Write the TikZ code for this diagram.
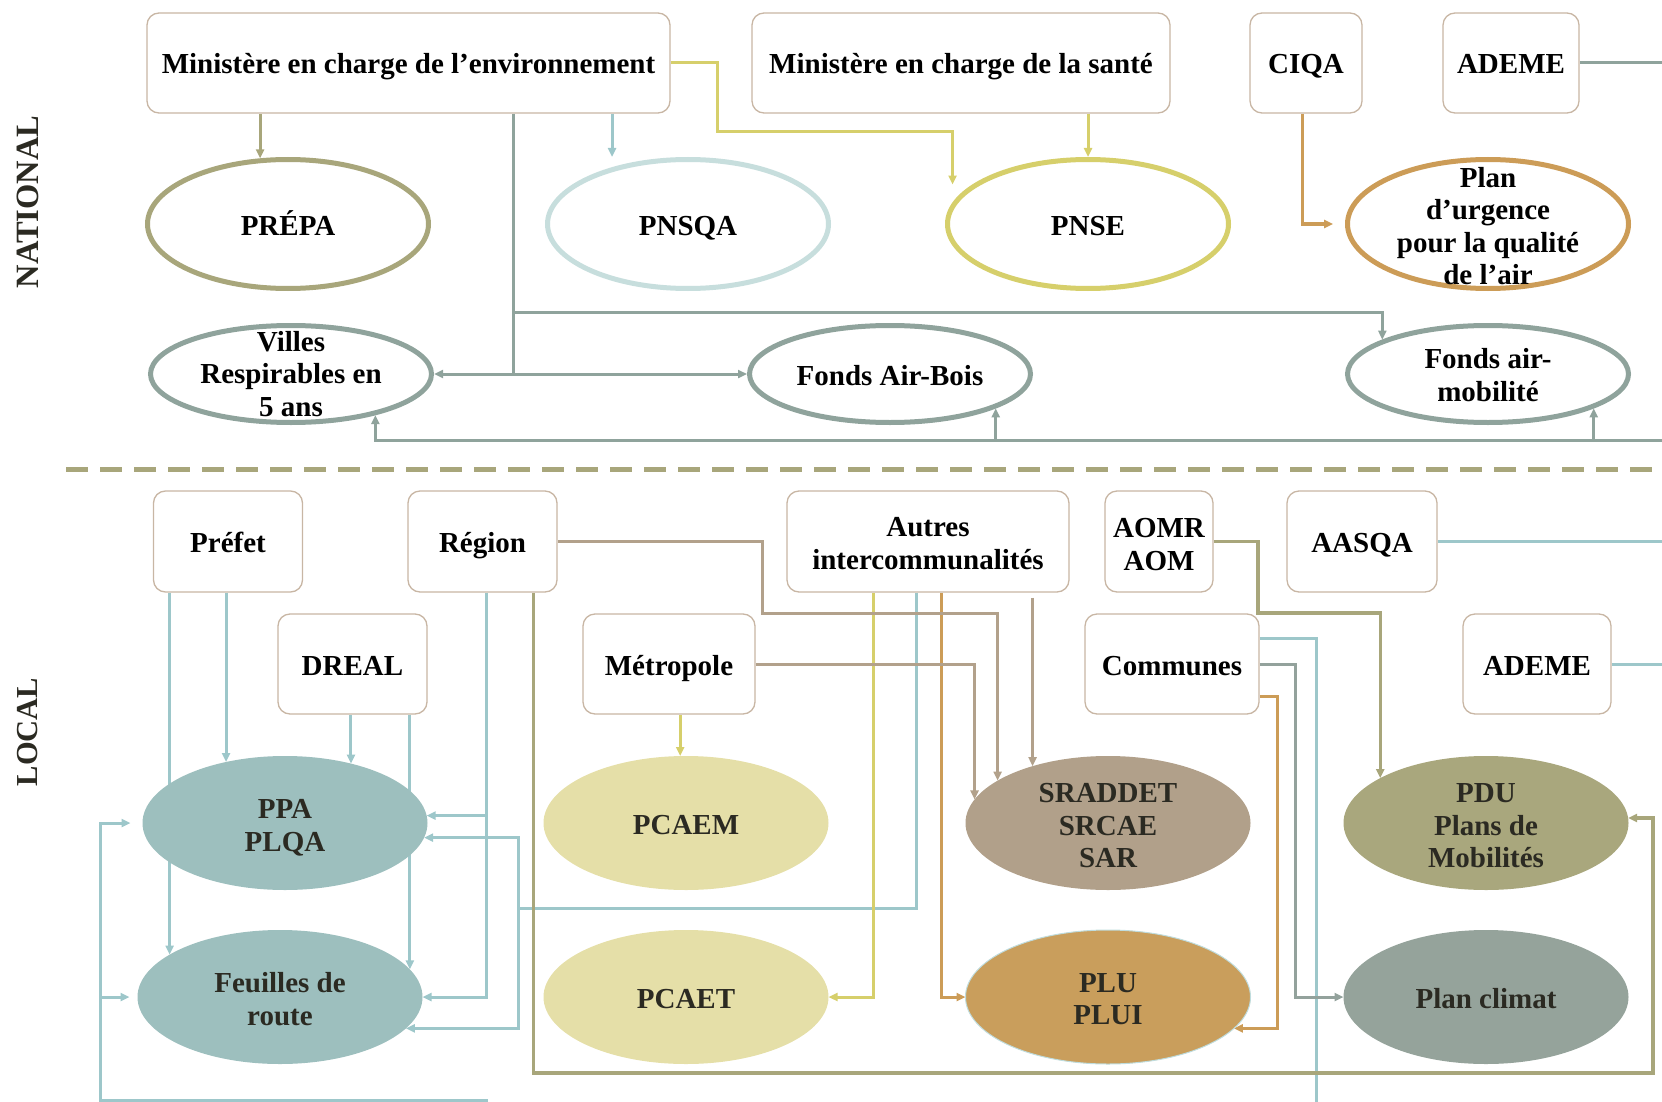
\documentclass[tikz,border=0pt]{standalone}
\usepackage{fontspec}
\setmainfont{Liberation Serif}
\usetikzlibrary{shapes.geometric,arrows.meta}

\definecolor{boxline}{HTML}{C8B6A4}
\definecolor{olivec}{HTML}{A8A67B}
\definecolor{paleteal}{HTML}{C7DEDD}
\definecolor{yelc}{HTML}{D6CF6B}
\definecolor{orngc}{HTML}{CC9C57}
\definecolor{sage}{HTML}{8FA39C}
\definecolor{locblue}{HTML}{9DC7CA}
\definecolor{ppafill}{HTML}{9DBFBE}
\definecolor{pcafill}{HTML}{E5DFA8}
\definecolor{sradfill}{HTML}{B1A08A}
\definecolor{plufill}{HTML}{C99E5C}
\definecolor{pluedge}{HTML}{BFDCDD}
\definecolor{pdufill}{HTML}{A9A77D}
\definecolor{climfill}{HTML}{95A39B}
\definecolor{brownc}{HTML}{B2A18B}
\definecolor{greyc}{HTML}{93A29C}
\definecolor{inkdark}{HTML}{2B2A22}

\newcommand{\boxfont}{\bfseries\fontsize{29}{32.5}\selectfont}

\pgfdeclarelayer{background}
\pgfsetlayers{background,main}

\tikzset{
  box/.style={draw=boxline, line width=1.3pt, rounded corners=12pt, fill=white,
    inner sep=0pt, align=center, text=black, font=\boxfont},
  oneline/.style={text height=22pt, text depth=0pt},
  natplan/.style={ellipse, line width=5pt, fill=white, minimum width=281pt,
    minimum height=129pt, inner sep=0pt},
  locplan/.style={ellipse, draw=none, minimum width=285pt, minimum height=134pt,
    inner sep=0pt, outer sep=0pt},
  plantxt/.style={align=center, font=\boxfont, text=black, inner sep=0pt},
  loctxt/.style={align=center, font=\boxfont, text=inkdark, inner sep=0pt},
  sidelbl/.style={rotate=90, font=\bfseries\fontsize{30.5}{30}\selectfont, text=inkdark},
  natline/.style={draw=sage, line width=3pt},
  locline/.style={draw=locblue, line width=3pt},
  yelline/.style={draw=yelc, line width=3pt},
  orline/.style={draw=orngc, line width=3pt},
  greyline/.style={draw=greyc, line width=3pt},
  brline/.style={draw=brownc, line width=3pt},
  olline/.style={draw=olivec, line width=3.5pt},
  divider/.style={draw=olivec, line width=5pt, dash pattern=on 22pt off 12pt}
}

\begin{document}
\begin{tikzpicture}[x=1pt, y=-1pt, >={Triangle[length=9pt,width=8pt]}]
\useasboundingbox (0,0) rectangle (1662,1102);

% side titles
\node[sidelbl, font=\bfseries\fontsize{32.5}{30}\selectfont] (natLbl) at (28,202) {NATIONAL};
\node[sidelbl] (locLbl) at (28,732) {LOCAL};

% national level
\node[box, oneline, minimum width=523pt, minimum height=100pt] (envbox) at (408.5,63) {Ministère en charge de l’environnement};
\node[box, oneline, minimum width=418pt, minimum height=100pt] (santebox) at (961,63) {Ministère en charge de la santé};
\node[box, oneline, minimum width=112pt, minimum height=100pt] (ciqa) at (1306,63) {CIQA};
\node[box, oneline, minimum width=136pt, minimum height=100pt] (ademeN) at (1511,63) {ADEME};

\node[natplan, draw=olivec, label={[plantxt, oneline]center:PRÉPA}] (prepa) at (288,224) {};
\node[natplan, draw=paleteal, label={[plantxt, oneline]center:PNSQA}] (pnsqa) at (688,224) {};
\node[natplan, draw=yelc, label={[plantxt, oneline]center:PNSE}] (pnse) at (1088,224) {};
\node[natplan, draw=orngc, label={[plantxt, yshift=-2pt]center:Plan\\d’urgence\\pour la qualité\\de l’air}] (urgence) at (1488,224) {};

\node[natplan, minimum height=97pt, draw=sage, label={[plantxt]center:Villes\\Respirables en\\5 ans}] (villes) at (291,374) {};
\node[natplan, minimum height=97pt, draw=sage, label={[plantxt, oneline]center:Fonds Air-Bois}] (airbois) at (890,374) {};
\node[natplan, minimum height=97pt, draw=sage, label={[plantxt, yshift=-1pt]center:Fonds air-\\mobilité}] (mobilite) at (1488,374) {};

% local level
\node[box, oneline, minimum width=149pt, minimum height=101pt] (prefet) at (228,541.5) {Préfet};
\node[box, oneline, minimum width=149pt, minimum height=101pt] (region) at (482.5,541.5) {Région};
\node[box, minimum width=282pt, minimum height=101pt, label={[plantxt, yshift=-2pt]center:Autres\\intercommunalités}] (autres) at (928,541.5) {};
\node[box, minimum width=108pt, minimum height=101pt, label={[plantxt, yshift=-3pt]center:AOMR\\AOM}] (aomr) at (1159,541.5) {};
\node[box, oneline, minimum width=150pt, minimum height=101pt] (aasqa) at (1362,541.5) {AASQA};
\node[box, oneline, minimum width=149pt, minimum height=100pt] (dreal) at (352.5,664) {DREAL};
\node[box, oneline, minimum width=172pt, minimum height=100pt] (metropole) at (669,664) {Métropole};
\node[box, oneline, minimum width=174pt, minimum height=100pt] (communes) at (1172,664) {Communes};
\node[box, oneline, minimum width=148pt, minimum height=100pt] (ademeL) at (1537,664) {ADEME};

\node[locplan, fill=ppafill, label={[loctxt, yshift=-5pt]center:PPA\\PLQA}] (ppa) at (285,823) {};
\node[locplan, fill=ppafill, label={[loctxt, yshift=-2pt]center:Feuilles de\\route}] (feuilles) at (280,997) {};
\node[locplan, fill=pcafill, label={[loctxt, oneline]center:PCAEM}] (pcaem) at (686,823) {};
\node[locplan, fill=pcafill, label={[loctxt, oneline]center:PCAET}] (pcaet) at (686,997) {};
\node[locplan, fill=sradfill, label={[loctxt, yshift=-3pt]center:SRADDET\\SRCAE\\SAR}] (sraddet) at (1108,823) {};
\node[locplan, fill=plufill, draw=pluedge, line width=1pt, label={[loctxt, yshift=-2pt]center:PLU\\PLUI}] (plu) at (1108,997) {};
\node[locplan, fill=pdufill, label={[loctxt, yshift=-3pt]center:PDU\\Plans de\\Mobilités}] (pdu) at (1486,823) {};
\node[locplan, fill=climfill, label={[loctxt, oneline]center:Plan climat}] (climat) at (1486,997) {};

\coordinate (rim) at (1662,0);
\coordinate (hub) at (513,374);
\coordinate (fork) at (513,312);
\coordinate (natR) at (1662,440);
\coordinate (pnsqaIn) at ([xshift=-76pt]pnsqa.north);
\coordinate (regDown) at ([xshift=4pt]region.south);
\coordinate (autBlue) at ([xshift=-12pt]autres.south);
\coordinate (bus) at (518,908);
\coordinate (sw) at (100,1100);
\coordinate (cOr) at (1277,0);
\coordinate (cGr) at (1295,0);

\begin{pgfonlayer}{background}
% national links
\draw[natline, draw=olivec, ->] (envbox.south -| prepa.113) -- (prepa.113);
\draw[natline, draw=locblue, ->] (envbox.south -| pnsqaIn) -- (pnsqaIn);
\draw[yelline, ->] (envbox.east) -| (717,132) -| ([yshift=18pt]pnse.171);
\draw[yelline, ->] (pnse.north |- santebox.south) -- (pnse.north);
\draw[orline, ->] ([xshift=-4pt]ciqa.south) |- ([xshift=-12pt]urgence.west);
\draw[natline] (envbox.south -| hub) -- (hub);
\draw[natline, <->] (villes.east) -- (airbois.west);
\draw[natline, ->] (fork) -| (mobilite.162);
\draw[natline, ->] (natR) -| (villes.-26);
\draw[natline, ->] (natR -| airbois.-18) -- (airbois.-18);
\draw[natline, ->] (natR -| mobilite.-18) -- (mobilite.-18);
\draw[natline] (ademeN.east) -- (ademeN.east -| rim);

\draw[divider] (66,469) -- (1662,469);

% local links
\draw[locline, ->] (prefet.south -| feuilles.159) -- (feuilles.159);
\draw[locline, ->] (prefet.south -| ppa.134) -- (ppa.134);
\draw[locline, ->] (dreal.south -| ppa.42) -- (ppa.42);
\draw[locline, ->] (dreal.south -| feuilles.12) -- (feuilles.12);
\draw[locline, ->] (regDown) |- (feuilles.east);
\draw[locline, ->] (regDown |- ppa.3) -- (ppa.3);
\draw[locline] (autBlue) |- (bus);
\draw[locline, ->] (bus) |- (ppa.-6);
\draw[locline, ->] (bus) |- (feuilles.-14);
\draw[locline, ->] (488,1100) -- (sw) |- ([xshift=-12pt]ppa.west);
\draw[locline, ->] (sw |- feuilles.west) -- ([xshift=-8pt]feuilles.west);
\draw[locline] ([yshift=26pt]communes.east) -| (1316,1102);
\draw[locline] (aasqa.east) -- (aasqa.east -| rim);
\draw[locline] (ademeL.east) -- (ademeL.east -| rim);

\draw[yelline, ->] (metropole.south -| pcaem.95) -- (pcaem.95);
\draw[yelline, ->] ([xshift=-55pt]autres.south) |- (pcaet.east);
\draw[orline, ->] ([xshift=13pt]autres.south) |- (plu.west);
\draw[orline, ->] ([yshift=-32pt]communes.east) -| (cOr |- plu.-14) -- (plu.-14);
\draw[greyline, ->] (communes.east) -| (cGr |- climat.west) -- (climat.west);

\draw[brline, ->, shorten <=5pt] (autres.south -| sraddet.143) -- (sraddet.143);
\draw[brline, ->] (region.east) -| (762,613) -| (sraddet.159);
\draw[brline, ->] (metropole.east) -| (sraddet.170);

\draw[olline, ->] (aomr.east) -| (1258,613) -| (pdu.157);
\draw[olline, ->] ([xshift=51pt]region.south) |- (1653,1073) |- (pdu.2);
\end{pgfonlayer}

\end{tikzpicture}
\end{document}
